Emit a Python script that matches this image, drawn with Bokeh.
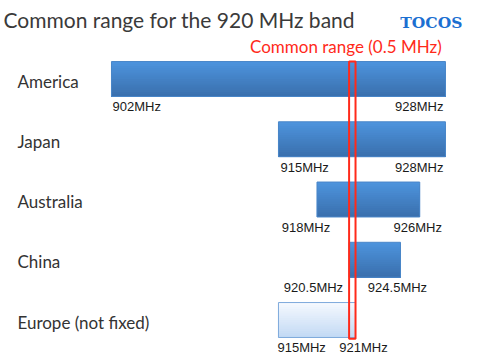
from bokeh.plotting import figure
from bokeh.models import Range1d, Label, ColumnDataSource
from bokeh.core.properties import value
from bokeh.embed import file_html
from bokeh.resources import INLINE

# ---- data ----
regions = ["America", "Japan", "Australia", "China", "Europe (not fixed)"]
start_mhz = [902, 915, 918, 920.5, 915]
end_mhz = [928, 928, 926, 924.5, 921]
start_labels = ["902MHz", "915MHz", "918MHz", "920.5MHz", "915MHz"]
end_labels = ["928MHz", "928MHz", "926MHz", "924.5MHz", "921MHz"]
common_start = 920.5
common_end = 921.0
title_text = "Common range for the 920 MHz band"
common_text = "Common range (0.5 MHz)"
logo_text = "TOCOS"

# ---- styles ----
W, H = 480, 360
X0, X1 = 893.36, 930.73
Y_TOP, Y_BOT = -1.303, 4.672
bar_h = 0.58
top_cols = ["#4d93dc", "#4d93dc", "#4d93dc", "#4d93dc", "#f4f8fe"]
bot_cols = ["#3a70ae", "#3a70ae", "#3a70ae", "#3a70ae", "#c3daf4"]
edge_cols = ["#4a86c8", "#4a86c8", "#4a86c8", "#4a86c8", "#7eaadc"]
start_align = ["left", "left", "center", "right", "left"]
start_dx = [1, 2, -11, -6, -1]
end_align = ["right", "right", "center", "center", "center"]
end_dx = [-2, -2, -2, -3, 8]

p = figure(width=W, height=H, output_backend="svg", toolbar_location=None,
           x_range=Range1d(X0, X1), y_range=Range1d(Y_BOT, Y_TOP),
           x_axis_location=None, y_axis_location=None, min_border=0)
p.grid.visible = False
p.outline_line_color = None
p.background_fill_color = "white"
p.border_fill_color = "white"

rows = list(range(len(regions)))


def hx(c):
    return tuple(int(c[i:i + 2], 16) for i in (1, 3, 5))


def lerp(c1, c2, t):
    a, b = hx(c1), hx(c2)
    return "#%02x%02x%02x" % tuple(round(a[i] + (b[i] - a[i]) * t) for i in range(3))


# vertical gradient: stacked slices, each reaching to the bar bottom
n = 16
for k in range(n):
    t = k / (n - 1)
    tops = [r - bar_h / 2 + k * bar_h / n for r in rows]
    bots = [r + bar_h / 2 for r in rows]
    cols = [lerp(top_cols[i], bot_cols[i], t) for i in rows]
    p.quad(top=tops, bottom=bots, left=start_mhz, right=end_mhz,
           fill_color=cols, line_color=None)

p.hbar(y=rows, left=start_mhz, right=end_mhz, height=bar_h,
       fill_color=None, line_color=edge_cols, line_width=1)

# common range box
p.quad(left=[common_start], right=[common_end], top=[rows[0] - bar_h / 2],
       bottom=[rows[-1] + bar_h / 2 + 0.02], fill_color=None,
       line_color="#ff2a1a", line_width=2)

# frequency labels
lab_y = [r + bar_h / 2 for r in rows]
src_s = ColumnDataSource(dict(x=start_mhz, y=lab_y, t=start_labels, a=start_align, dx=start_dx))
src_e = ColumnDataSource(dict(x=end_mhz, y=lab_y, t=end_labels, a=end_align, dx=end_dx))
for src in (src_s, src_e):
    p.text(x="x", y="y", text="t", source=src, text_align="a", x_offset="dx",
           y_offset=3, text_baseline="top", text_font=value("Liberation Sans"),
           text_font_size="13px", text_color="#1a1a1a")

# region labels
p.text(x=[894.68] * len(rows), y=rows, text=regions, text_baseline="middle",
       y_offset=2, text_font=value("Lato"), text_font_size="17px",
       text_color="#333333")

# title, logo, annotation
p.add_layout(Label(x=893.59, y=-0.985, text=title_text, text_font="Lato",
                   text_font_size="21px", text_color="#3a3a3a",
                   text_baseline="alphabetic", text_align="left"))
p.add_layout(Label(x=929.32, y=-0.94, text=logo_text, text_font="DejaVu Serif",
                   text_font_style="bold", text_font_size="15.5px", text_color="#1c6fd1",
                   text_baseline="alphabetic", text_align="right"))
p.add_layout(Label(x=(common_start + common_end) / 2 - 0.5, y=-0.54, text=common_text,
                   text_font="Lato", text_font_size="17px", text_color="#ff2a1a",
                   text_baseline="alphabetic", text_align="center"))

open("out.html", "w").write(file_html(p, INLINE))
